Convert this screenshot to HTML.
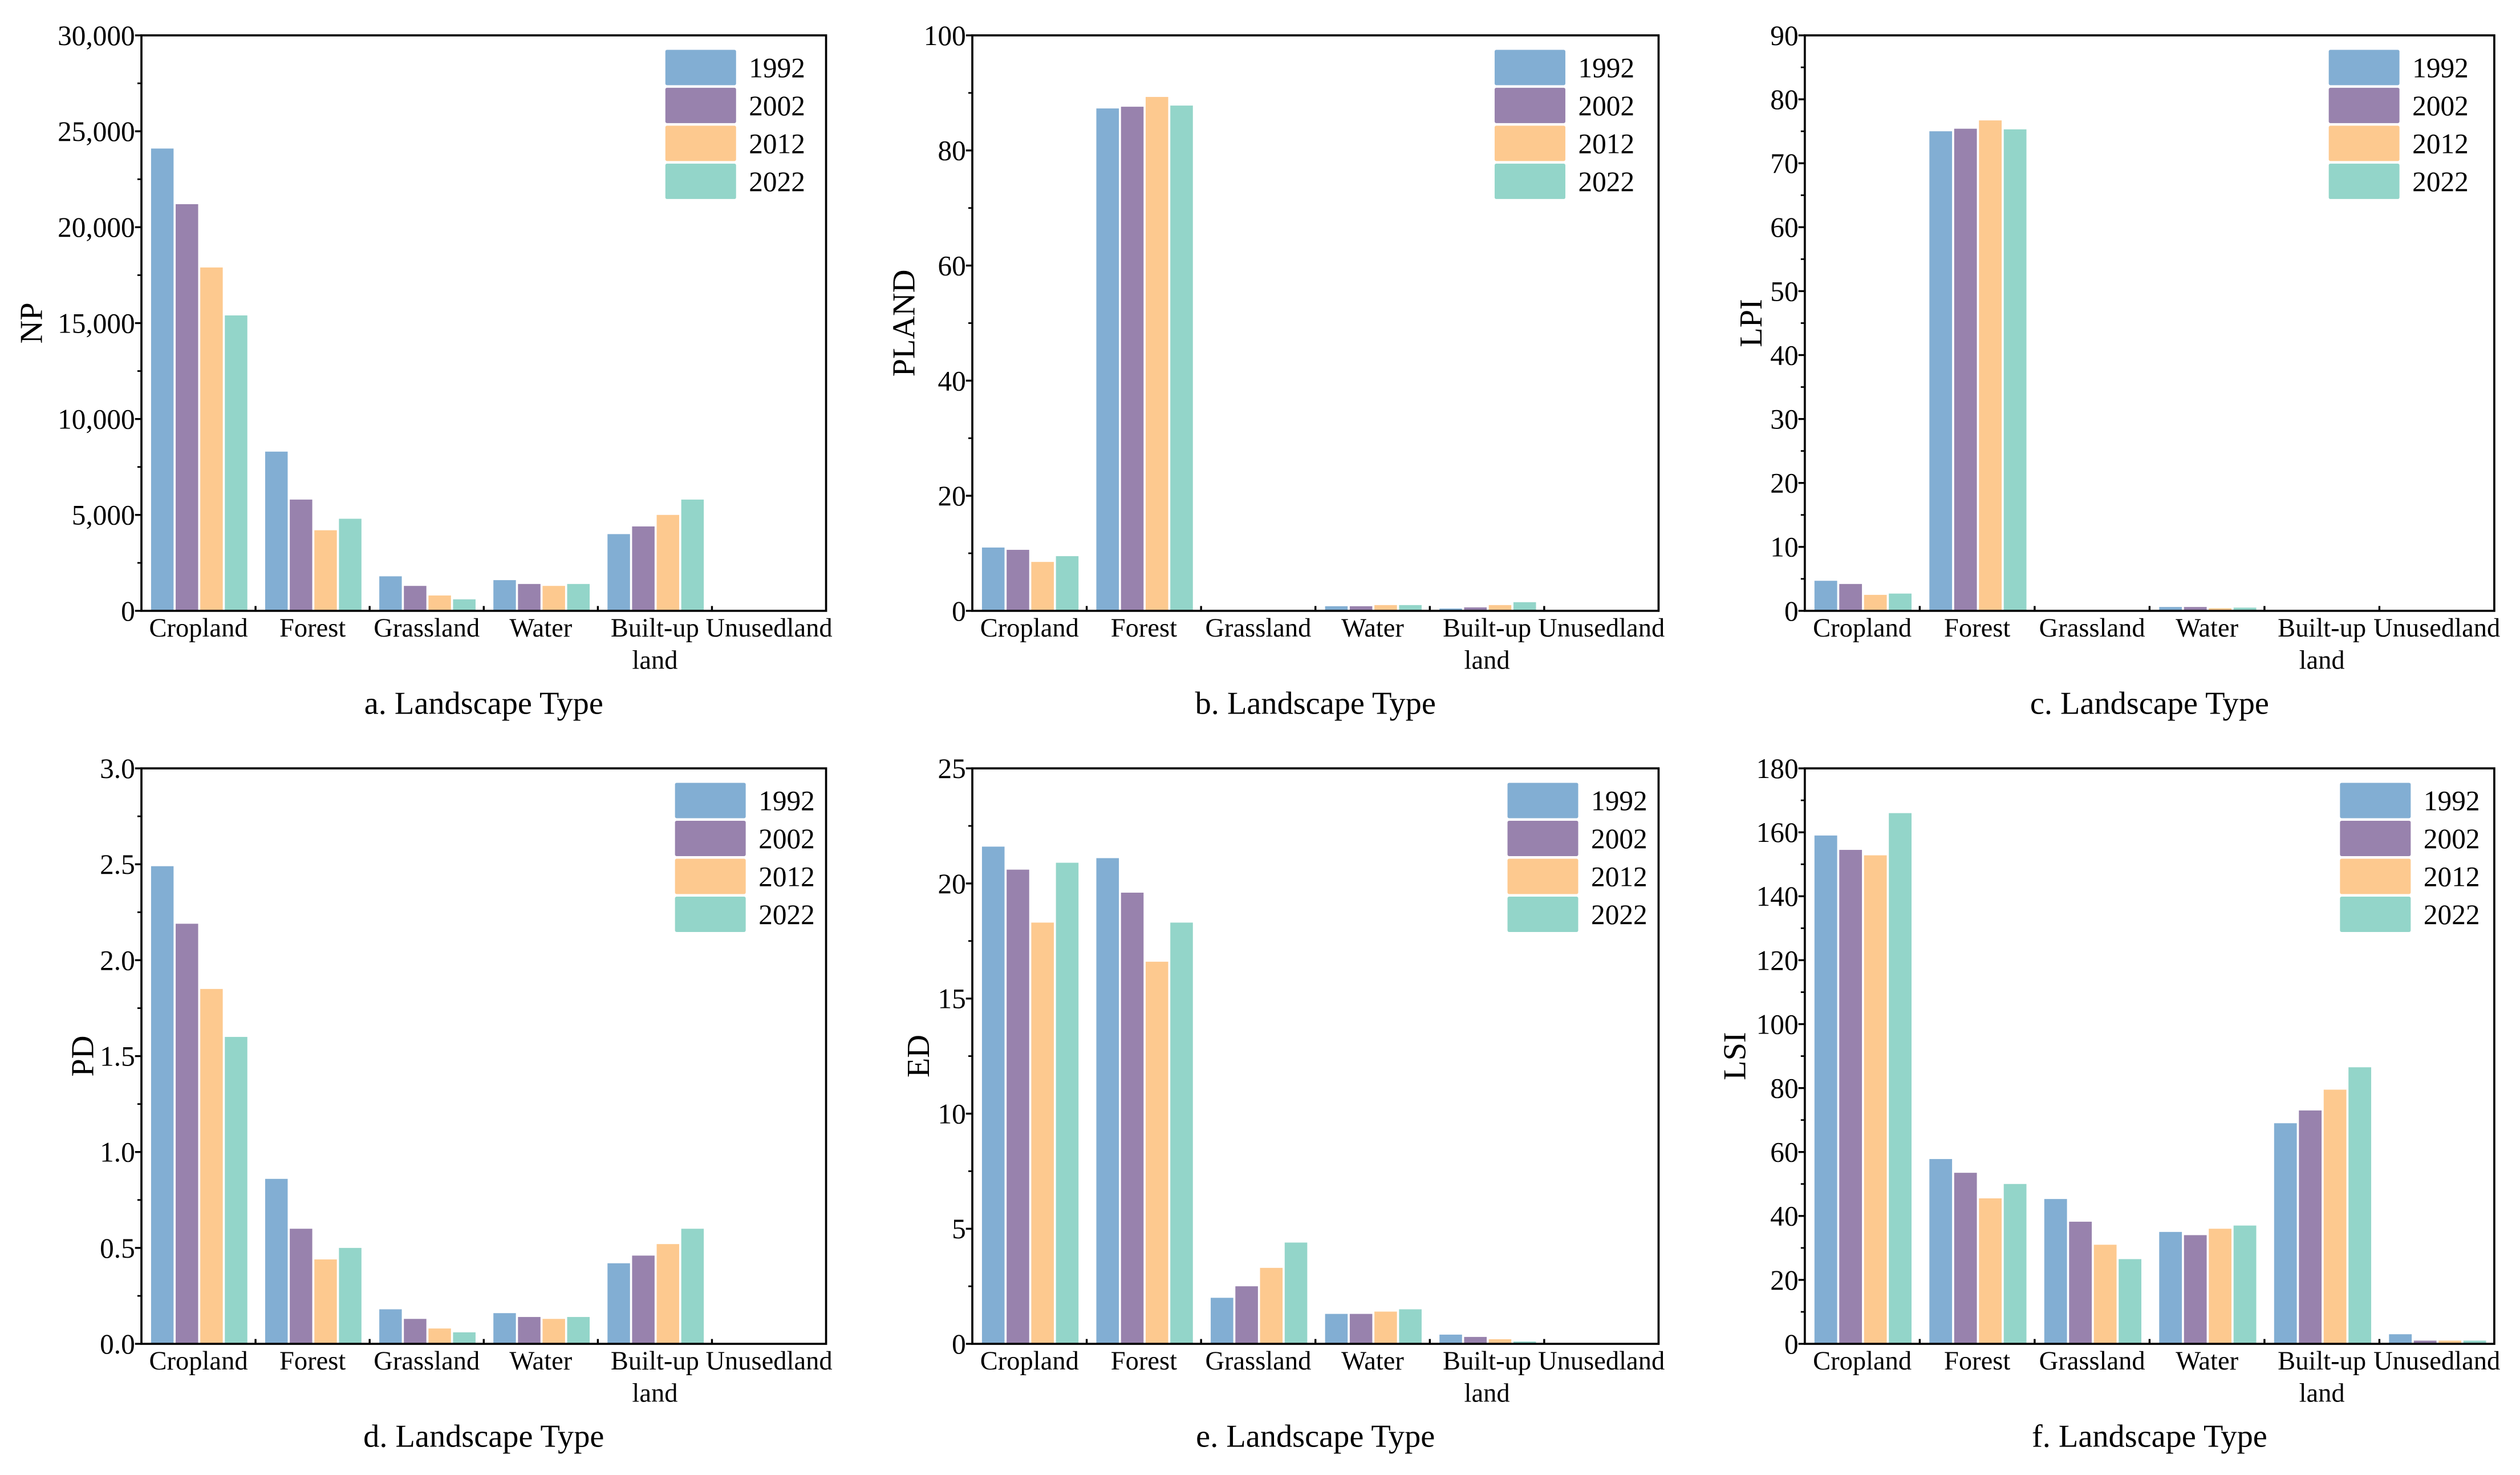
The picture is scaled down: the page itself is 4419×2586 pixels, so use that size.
<!DOCTYPE html>
<html><head><meta charset="utf-8"><style>
html,body{margin:0;padding:0;background:#fff}
svg{display:block;font-family:"Liberation Serif",serif}
</style></head><body>
<svg id="fig" width="4419" height="2586" viewBox="0 0 1568 917.6" preserveAspectRatio="none" xmlns="http://www.w3.org/2000/svg"></svg>
<script>
const categories=["Cropland","Forest","Grassland","Water","Built-up land","Unusedland"];
const years=["1992","2002","2012","2022"];
const colors=["#82aed3","#9882ad","#fdc98f","#93d5c9"];
const npVals=[[24100,8300,1800,1600,4000,0],[21200,5800,1300,1400,4400,0],[17900,4200,800,1300,5000,0],[15400,4800,600,1400,5800,0]];
const plandVals=[[11,87.3,0.1,0.8,0.4,0],[10.6,87.6,0.1,0.8,0.6,0],[8.5,89.3,0.1,1.0,1.0,0],[9.5,87.8,0.1,1.0,1.5,0]];
const lpiVals=[[4.7,75,0.05,0.6,0.1,0],[4.2,75.4,0.05,0.6,0.1,0],[2.5,76.7,0.05,0.4,0.1,0],[2.7,75.3,0.05,0.5,0.1,0]];
const pdVals=[[2.49,0.86,0.18,0.16,0.42,0],[2.19,0.6,0.13,0.14,0.46,0],[1.85,0.44,0.08,0.13,0.52,0],[1.6,0.5,0.06,0.14,0.6,0]];
const edVals=[[21.6,21.1,2.0,1.3,0.4,0],[20.6,19.6,2.5,1.3,0.3,0],[18.3,16.6,3.3,1.4,0.2,0],[20.9,18.3,4.4,1.5,0.1,0]];
const lsiVals=[[159,57.8,45.3,35,69,3],[154.5,53.5,38.2,34,73,1],[152.8,45.5,31,36,79.5,1],[166,50,26.5,37,86.5,1]];
const npTicks=[0,5000,10000,15000,20000,25000,30000];
const plandTicks=[0,20,40,60,80,100];
const lpiTicks=[0,10,20,30,40,50,60,70,80,90];
const pdTicks=[0,0.5,1.0,1.5,2.0,2.5,3.0];
const edTicks=[0,5,10,15,20,25];
const lsiTicks=[0,20,40,60,80,100,120,140,160,180];

const NS="http://www.w3.org/2000/svg";
const svg=document.getElementById('fig');
function mk(tag,attrs,parent){const e=document.createElementNS(NS,tag);for(const k in attrs)e.setAttribute(k,attrs[k]);(parent||svg).appendChild(e);return e;}

const panels=[
 {id:"np",vals:npVals,ticks:npTicks,minor:2500,fmt:v=>v.toLocaleString('en-US'),ylab:"NP",title:"a. Landscape Type",x0:88,x1:514,y0:22,y1:380,ylx:20,legx:414},
 {id:"pland",vals:plandVals,ticks:plandTicks,minor:10,fmt:v=>String(v),ylab:"PLAND",title:"b. Landscape Type",x0:605,x1:1032,y0:22,y1:380,ylx:563,legx:930},
 {id:"lpi",vals:lpiVals,ticks:lpiTicks,minor:5,fmt:v=>String(v),ylab:"LPI",title:"c. Landscape Type",x0:1123,x1:1552,y0:22,y1:380,ylx:1090,legx:1449},
 {id:"pd",vals:pdVals,ticks:pdTicks,minor:0.25,fmt:v=>v.toFixed(1),ylab:"PD",title:"d. Landscape Type",x0:88,x1:514,y0:478,y1:836,ylx:52,legx:420},
 {id:"ed",vals:edVals,ticks:edTicks,minor:2.5,fmt:v=>String(v),ylab:"ED",title:"e. Landscape Type",x0:605,x1:1032,y0:478,y1:836,ylx:572,legx:938},
 {id:"lsi",vals:lsiVals,ticks:lsiTicks,minor:10,fmt:v=>String(v),ylab:"LSI",title:"f. Landscape Type",x0:1123,x1:1552,y0:478,y1:836,ylx:1080,legx:1456}
];

panels.forEach(p=>{
 const g=mk('g',{});
 
 
 const ymax=p.ticks[p.ticks.length-1];
 const yS=v=>p.y1-(v/ymax)*(p.y1-p.y0);
 const cw=(p.x1-p.x0)/categories.length;
 const bw=(cw-11)/4-1;
 const xS=(ci,si)=>p.x0+ci*cw+6+si*(bw+1.3);
 for(let s=0;s<years.length;s++){
  for(let c=0;c<categories.length;c++){
   const v=p.vals[s][c]; if(v<=0) continue;
   const r=mk('rect',{x:xS(c,s),y:yS(v),width:bw,height:p.y1-yS(v),fill:colors[s]},g);
   
   
  }
 }
 const fr=mk('rect',{x:p.x0,y:p.y0,width:p.x1-p.x0,height:p.y1-p.y0,fill:'none',stroke:'#000','stroke-width':1.3},g);
 
 
 p.ticks.forEach(t=>{
  const y=yS(t);
  mk('line',{x1:p.x0-4,x2:p.x0,y1:y,y2:y,stroke:'#000','stroke-width':1.2},g);
  const tx=mk('text',{x:p.x0-4,y:y+6,'text-anchor':'end','font-size':17.5},g);
  tx.textContent=p.fmt(t);
  
  
 });
 for(let m=p.minor;m<ymax;m+=p.minor){
  if(p.ticks.some(t=>Math.abs(t-m)<1e-9)) continue;
  const y=yS(m); mk('line',{x1:p.x0-2.5,x2:p.x0,y1:y,y2:y,stroke:'#000','stroke-width':1},g);
 }
 for(let c=1;c<categories.length;c++){
  const x=p.x0+c*cw; mk('line',{x1:x,x2:x,y1:p.y1,y2:p.y1-3,stroke:'#000','stroke-width':1.2},g);
 }
 categories.forEach((cat,c)=>{
  const cx=p.x0+(c+0.5)*cw;
  const tx=mk('text',{x:cx,y:p.y1+16,'text-anchor':'middle','font-size':16.5},g);
  
  
  if(cat==="Built-up land"){
   const a=mk('tspan',{x:cx,dy:0},tx); a.textContent="Built-up";
   const b=mk('tspan',{x:cx,dy:20},tx); b.textContent="land";
  } else tx.textContent=cat;
 });
 const yt=mk('text',{x:p.ylx+6,y:(p.y0+p.y1)/2,'text-anchor':'middle','font-size':20,transform:`rotate(-90 ${p.ylx+6} ${(p.y0+p.y1)/2})`},g);
 yt.textContent=p.ylab;
 
 
 const xt=mk('text',{x:(p.x0+p.x1)/2,y:p.y1+64,'text-anchor':'middle','font-size':20},g);
 xt.textContent=p.title;
 
 
 years.forEach((yr,i)=>{
  const ly=p.y0+9+i*23.6;
  const sw=mk('rect',{x:p.legx,y:ly,width:44,height:22,fill:colors[i],rx:1},g);
  
  
  const lt=mk('text',{x:p.legx+52,y:ly+17,'font-size':17.5},g);
  lt.textContent=yr;
  
  
 });
});
</script>
</body></html>
